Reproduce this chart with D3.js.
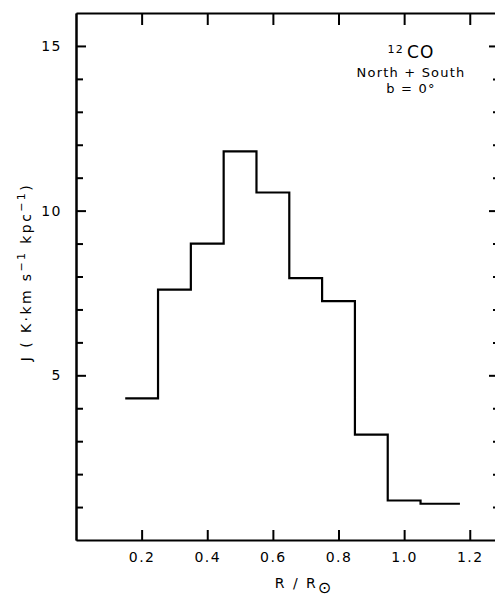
<!DOCTYPE html>
<html>
<head>
<meta charset="utf-8">
<script src="https://cdn.jsdelivr.net/npm/d3@7"></script>
<style>
  body { margin: 0; background: #fff; }
  svg { display: block; font-family: "DejaVu Sans", "Liberation Sans", sans-serif; }
</style>
</head>
<body>
<svg id="drawing_region"></svg>
<script>
// bin edges (R / R0) and J per bin
const binEdges = [0.15, 0.25, 0.35, 0.45, 0.55, 0.65, 0.75, 0.85, 0.95, 1.05, 1.17];
const jValues  = [4.3, 7.6, 9.0, 11.8, 10.55, 7.95, 7.25, 3.2, 1.2, 1.1];
const xTicks = [0.2, 0.4, 0.6, 0.8, 1.0, 1.2];
const yMajor = [5, 10, 15];
const yMinor = [1, 2, 3, 4, 6, 7, 8, 9, 11, 12, 13, 14];
const xDomain = [0, 1.283];
const yDomain = [0, 16];

const config = {
    width: 495,
    height: 601,
    margin: {top: 13, right: -2, bottom: 61, left: 76}
};

const svg = d3.select('#drawing_region')
    .attr('width', config.width)
    .attr('height', config.height);

const inner_width = config.width - config.margin.left - config.margin.right;
const inner_height = config.height - config.margin.top - config.margin.bottom;

const chart = svg.append('g')
    .attr('transform', `translate(${config.margin.left}, ${config.margin.top})`);

const xscale = d3.scaleLinear().domain(xDomain).range([0, inner_width]);
const yscale = d3.scaleLinear().domain(yDomain).range([inner_height, 0]);

// bottom axis, ticks pointing inward
const xaxis = d3.axisBottom(xscale)
    .tickValues(xTicks)
    .tickFormat(d3.format('.1f'))
    .tickSizeInner(-10)
    .tickSizeOuter(0)
    .tickPadding(12);
chart.append('g')
    .attr('transform', `translate(0, ${inner_height})`)
    .call(xaxis);

// top axis
chart.append('g')
    .call(d3.axisTop(xscale).tickValues(xTicks).tickSizeInner(-12).tickSizeOuter(0).tickFormat(''));

// left axis, major + minor
chart.append('g')
    .call(d3.axisLeft(yscale).tickValues(yMajor).tickSizeInner(-10).tickSizeOuter(0).tickPadding(14));
chart.append('g')
    .call(d3.axisLeft(yscale).tickValues(yMinor).tickSizeInner(-7).tickSizeOuter(0).tickFormat(''));

// right axis
chart.append('g')
    .attr('transform', `translate(${inner_width}, 0)`)
    .call(d3.axisRight(yscale).tickValues(yMajor).tickSizeInner(-8).tickSizeOuter(0).tickFormat(''));
chart.append('g')
    .attr('transform', `translate(${inner_width}, 0)`)
    .call(d3.axisRight(yscale).tickValues(yMinor).tickSizeInner(-4).tickSizeOuter(0).tickFormat(''));

chart.selectAll('.domain').attr('stroke', '#000').attr('stroke-width', 2);
chart.selectAll('.tick line').attr('stroke', '#000').attr('stroke-width', 2);
chart.selectAll('.tick text')
    .attr('font-family', '"DejaVu Sans", sans-serif')
    .attr('font-size', '14px')
    .attr('letter-spacing', '1.5px')
    .attr('fill', '#000');

// histogram outline
const steps = [];
jValues.forEach((v, i) => {
    steps.push([binEdges[i], v]);
    steps.push([binEdges[i + 1], v]);
});
const line = d3.line()
    .x(d => xscale(d[0]))
    .y(d => yscale(d[1]));
chart.append('path')
    .datum(steps)
    .attr('d', line)
    .attr('fill', 'none')
    .attr('stroke', '#000')
    .attr('stroke-width', 2.2);

// annotation
const noteX = 411;
const note = svg.append('g')
    .attr('font-size', '13px')
    .attr('letter-spacing', '1.2px')
    .attr('text-anchor', 'middle');
const t1 = note.append('text')
    .attr('x', noteX)
    .attr('y', 58);
t1.append('tspan').attr('font-size', '11px').attr('dy', '-5').text('12');
t1.append('tspan').attr('font-size', '17px').attr('dy', '5').attr('dx', '3').text('CO');
note.append('text')
    .attr('x', noteX)
    .attr('y', 77)
    .text('North + South');
note.append('text')
    .attr('x', noteX)
    .attr('y', 93)
    .text('b = 0°');

// x label
const xl = svg.append('text')
    .attr('x', 304)
    .attr('y', 588)
    .attr('text-anchor', 'middle')
    .attr('font-size', '14px')
    .attr('letter-spacing', '2px');
xl.append('tspan').text('R / R');
xl.append('tspan').attr('font-size', '16px').attr('dy', '5').text('⊙');

// y label
const yl = svg.append('text')
    .attr('transform', 'translate(31, 272) rotate(-90)')
    .attr('text-anchor', 'middle')
    .attr('font-size', '14px')
    .attr('letter-spacing', '2.4px');
yl.append('tspan').text('J ( K·km s');
yl.append('tspan').attr('font-size', '11px').attr('dy', '-6').text('−1');
yl.append('tspan').attr('dy', '6').text(' kpc');
yl.append('tspan').attr('font-size', '11px').attr('dy', '-6').text('−1');
yl.append('tspan').attr('dy', '6').text(')');
</script>
</body>
</html>
